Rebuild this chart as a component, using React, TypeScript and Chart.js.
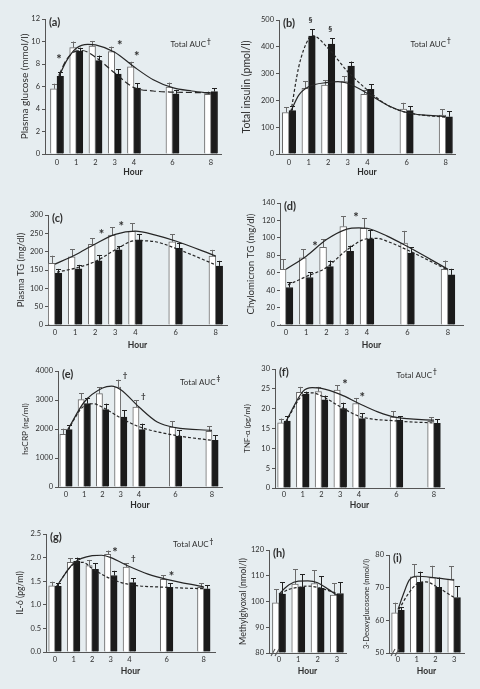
import React, { useEffect, useRef } from "react";
import { Chart, registerables } from "chart.js";
Chart.register(...registerables);

const FONT = 'Lato, "Open Sans", "DejaVu Sans", sans-serif';
const BG = "#e6edf0";
const TEXT = "#2e2e2e";
const AXIS = "#555555";
const WHITE_BORDER = "#6a6a6a";
const BLACK_FILL = "#1b1b1b";
const LINE = "#262626";
const TICK_SIZE = 7.5;
const HOUR_SIZE = 8.5;

const HOURS_LONG = [0, 1, 2, 3, 4, 6, 8];
const HOURS_SHORT = [0, 1, 2, 3];

// (a) Plasma glucose
const glucoseWhite = [5.8, 9.45, 9.6, 9.1, 7.75, 5.95, 5.3];
const glucoseWhiteErr = [0.45, 0.55, 0.45, 0.45, 0.45, 0.4, 0.25];
const glucoseBlack = [6.9, 9.15, 8.3, 7.1, 5.85, 5.35, 5.55];
const glucoseBlackErr = [0.4, 0.3, 0.45, 0.45, 0.45, 0.35, 0.3];
const glucoseSolidX = [0.1, 0.5, 1, 1.6, 2, 3, 4, 5, 6, 7, 8];
const glucoseSolidY = [6.9, 8.3, 9.4, 9.75, 9.7, 9.05, 7.75, 6.6, 5.9, 5.6, 5.4];
const glucoseDashX = [0.1, 0.5, 1, 1.3, 2, 3, 4, 5, 6, 8];
const glucoseDashY = [7.0, 8.4, 9.15, 9.2, 8.6, 7.2, 5.9, 5.6, 5.5, 5.45];
const glucoseMarks = [{ x: 0.1, y: 8.6, t: "*" }, { x: 3.26, y: 9.84, t: "*" }, { x: 4.14, y: 8.9, t: "*" }];

// (b) Total insulin
const insulinWhite = [155, 245, 257, 270, 223, 168, 145];
const insulinWhiteErr = [19, 27, 19, 21, 16, 23, 22];
const insulinBlack = [162, 440, 410, 328, 241, 162, 139];
const insulinBlackErr = [17, 25, 22, 17, 19, 17, 21];
const insulinSolidX = [0.05, 0.5, 1, 2, 2.5, 3, 4, 5, 6, 8];
const insulinSolidY = [152, 220, 251, 267, 270, 264, 226, 183, 155, 139];
const insulinDashX = [0.1, 0.5, 1, 1.2, 2, 3, 4, 5, 6, 8];
const insulinDashY = [158, 326, 430, 442, 394, 307, 239, 183, 155, 137];
const insulinMarks = [{ x: 1.1, y: 500, t: "§" }, { x: 2.1, y: 463, t: "§" }];

// (c) Plasma TG
const tgWhite = [168, 186, 220, 245, 256, 227, 188];
const tgWhiteErr = [21, 20, 16, 21, 21, 20, 17];
const tgBlack = [141, 153, 175, 205, 232, 209, 161];
const tgBlackErr = [12, 11, 16, 10, 15, 16, 14];
const tgSolidX = [0, 1, 2, 3, 4, 5, 6, 8];
const tgSolidY = [166, 191, 221, 247, 256, 245, 229, 188];
const tgDashX = [0.1, 1, 2, 3, 4, 5, 6, 8];
const tgDashY = [144, 155, 173, 205, 230, 227, 209, 164];
const tgMarks = [{ x: 2.32, y: 254, t: "*" }, { x: 3.3, y: 277, t: "*" }];

// (d) Chylomicron TG
const chyloWhite = [64, 77, 89, 113, 111, 94, 64];
const chyloWhiteErr = [11.5, 10, 9.6, 11.7, 11.7, 14, 10];
const chyloBlack = [43, 54.5, 67, 84.4, 99, 82.5, 57.5];
const chyloBlackErr = [6, 6, 7, 6.6, 9.5, 7, 7];
const chyloSolidX = [0, 1, 2, 3, 3.6, 4, 5, 6, 8];
const chyloSolidY = [64, 79, 98, 110, 111.5, 111, 102, 90, 64];
const chyloDashX = [0.1, 1, 2, 3, 4, 4.5, 5, 6, 8];
const chyloDashY = [46, 55.6, 66, 86, 99, 99.5, 96, 86, 63];
const chyloMarks = [{ x: 1.43, y: 93, t: "*" }, { x: 3.46, y: 126, t: "*" }];

// (e) hsCRP
const crpWhite = [1816, 3011, 3218, 3448, 2759, 2069, 1920];
const crpWhiteErr = [195, 230, 230, 253, 230, 207, 183];
const crpBlack = [1977, 2874, 2667, 2414, 1977, 1747, 1609];
const crpBlackErr = [149, 206, 207, 230, 207, 207, 173];
const crpSolidX = [0.1, 1, 2, 2.5, 3, 4, 5, 6, 8];
const crpSolidY = [1977, 2931, 3414, 3480, 3356, 2759, 2241, 2046, 1954];
const crpDashX = [0.1, 1, 1.5, 2, 3, 4, 6, 8];
const crpDashY = [1977, 2800, 2870, 2750, 2380, 2080, 1780, 1609];
const crpMarks = [{ x: 3.23, y: 3862, t: "†" }, { x: 4.24, y: 3138, t: "†" }];

// (f) TNF-α
const tnfWhite = [16.4, 24.1, 24.3, 24.7, 21.3, 17.9, 16.8];
const tnfWhiteErr = [1.1, 1.4, 1.2, 1.2, 1.4, 1.5, 1.1];
const tnfBlack = [16.9, 23.6, 22.2, 20.05, 17.5, 17.1, 16.3];
const tnfBlackErr = [1.2, 0.7, 1.1, 1.45, 1.3, 1.0, 1.0];
const tnfSolidX = [0.1, 1, 1.5, 2, 3, 4, 5, 6, 8];
const tnfSolidY = [16.7, 24.3, 25.3, 25.1, 23.6, 21.3, 19.2, 17.8, 17.1];
const tnfDashX = [0.1, 1, 1.5, 2, 3, 4, 6, 8];
const tnfDashY = [16.7, 23.4, 24, 23.2, 20.5, 18.1, 16.9, 16.4];
const tnfMarks = [{ x: 3.25, y: 26.8, t: "*" }, { x: 4.18, y: 23.4, t: "*" }];

// (g) IL-6
const il6White = [1.4, 1.9, 1.83, 2.07, 1.8, 1.54, 1.37];
const il6WhiteErr = [0.09, 0.09, 0.12, 0.08, 0.08, 0.09, 0.09];
const il6Black = [1.39, 1.92, 1.75, 1.62, 1.47, 1.37, 1.34];
const il6BlackErr = [0.07, 0.08, 0.13, 0.1, 0.09, 0.09, 0.08];
const il6SolidX = [0.1, 1, 2, 2.5, 3, 4, 5, 6, 8];
const il6SolidY = [1.4, 1.88, 2.04, 2.05, 2.0, 1.81, 1.65, 1.54, 1.38];
const il6DashX = [0.1, 1, 1.5, 2, 3, 4, 6, 8];
const il6DashY = [1.4, 1.86, 1.9, 1.77, 1.55, 1.43, 1.37, 1.34];
const il6Marks = [{ x: 3.23, y: 2.16, t: "*" }, { x: 4.21, y: 1.99, t: "†" }, { x: 6.27, y: 1.65, t: "*" }];

// (h) Methylglyoxal
const mgoWhite = [99.5, 106.8, 107, 102.5];
const mgoWhiteErr = [5.2, 5.7, 5.2, 4.5];
const mgoBlack = [102.9, 105.5, 105.1, 103.1];
const mgoBlackErr = [4.5, 5.1, 4.8, 4.3];
const mgoSolidX = [0, 0.5, 1, 1.5, 2, 2.5, 3];
const mgoSolidY = [102.9, 106.4, 107.9, 108, 107.3, 105, 102.5];
const mgoDashX = [0.05, 0.5, 1, 1.5, 2, 2.5, 3];
const mgoDashY = [102.9, 104.7, 105.5, 106, 105.5, 104.4, 103.1];

// (i) 3-Deoxyglucosone
const dgWhite = [62.3, 73.3, 73.1, 72.6];
const dgWhiteErr = [3.1, 3.8, 3.6, 4.0];
const dgBlack = [63.1, 71.6, 70.1, 67];
const dgBlackErr = [1.0, 3.3, 3.0, 3.5];
const dgSolidX = [0, 0.3, 0.6, 1, 2, 3];
const dgSolidY = [63.3, 68.2, 72.3, 73.5, 73, 72.3];
const dgDashX = [0.05, 0.5, 1, 1.5, 2, 3];
const dgDashY = [63.3, 67.7, 71.1, 71.8, 70.5, 67];

type Mark = { x: number; y: number; t: string };
type Panel = {
  label: string; yTitle: string; titleSize: number; hours: number[];
  white: number[]; whiteErr: number[]; black: number[]; blackErr: number[];
  solidX: number[]; solidY: number[]; dashX: number[]; dashY: number[];
  marks: Mark[]; auc?: { x: number; y: number; sup: string };
  yMin: number; yMax: number; yStep: number; yDec: number; brk?: boolean; dash: number[];
  L: number; R: number; T: number; B: number; titleX: number; tickY: number; hourY: number; x0: number; dx: number;
};

const SHORT_DASH = [3, 2];

const PANELS: Panel[] = [
  { label: "(a)", yTitle: "Plasma glucose (mmol/l)", titleSize: 10, hours: HOURS_LONG,
    white: glucoseWhite, whiteErr: glucoseWhiteErr, black: glucoseBlack, blackErr: glucoseBlackErr,
    solidX: glucoseSolidX, solidY: glucoseSolidY, dashX: glucoseDashX, dashY: glucoseDashY, marks: glucoseMarks,
    auc: { x: 5.9, y: 9.7, sup: "†" }, yMin: 0, yMax: 12, yStep: 2, yDec: 0, dash: [6, 3],
    L: 45, R: 221, T: 19, B: 154, titleX: 25, tickY: 163, hourY: 172, x0: 57, dx: 19.25 },
  { label: "(b)", yTitle: "Total insulin (pmol/l)", titleSize: 10.5, hours: HOURS_LONG,
    white: insulinWhite, whiteErr: insulinWhiteErr, black: insulinBlack, blackErr: insulinBlackErr,
    solidX: insulinSolidX, solidY: insulinSolidY, dashX: insulinDashX, dashY: insulinDashY, marks: insulinMarks,
    auc: { x: 6.2, y: 410, sup: "†" }, yMin: 0, yMax: 500, yStep: 100, yDec: 0, dash: SHORT_DASH,
    L: 279, R: 455, T: 20, B: 154, titleX: 247, tickY: 163, hourY: 172, x0: 289, dx: 19.6 },
  { label: "(c)", yTitle: "Plasma TG (mg/dl)", titleSize: 9.4, hours: HOURS_LONG,
    white: tgWhite, whiteErr: tgWhiteErr, black: tgBlack, blackErr: tgBlackErr,
    solidX: tgSolidX, solidY: tgSolidY, dashX: tgDashX, dashY: tgDashY, marks: tgMarks,
    yMin: 0, yMax: 300, yStep: 50, yDec: 0, dash: SHORT_DASH,
    L: 48, R: 227, T: 215, B: 325, titleX: 21, tickY: 333, hourY: 345, x0: 55, dx: 20.1 },
  { label: "(d)", yTitle: "Chylomicron TG (mg/dl)", titleSize: 9.7, hours: HOURS_LONG,
    white: chyloWhite, whiteErr: chyloWhiteErr, black: chyloBlack, blackErr: chyloBlackErr,
    solidX: chyloSolidX, solidY: chyloSolidY, dashX: chyloDashX, dashY: chyloDashY, marks: chyloMarks,
    yMin: 0, yMax: 140, yStep: 20, yDec: 0, dash: SHORT_DASH,
    L: 280, R: 463, T: 203, B: 325, titleX: 251, tickY: 333, hourY: 345, x0: 286, dx: 20.25 },
  { label: "(e)", yTitle: "hsCRP (ng/ml)", titleSize: 8.3, hours: HOURS_LONG,
    white: crpWhite, whiteErr: crpWhiteErr, black: crpBlack, blackErr: crpBlackErr,
    solidX: crpSolidX, solidY: crpSolidY, dashX: crpDashX, dashY: crpDashY, marks: crpMarks,
    auc: { x: 6.25, y: 3620, sup: "‡" }, yMin: 0, yMax: 4000, yStep: 1000, yDec: 0, dash: SHORT_DASH,
    L: 58, R: 222, T: 371, B: 487, titleX: 25, tickY: 495, hourY: 505, x0: 66, dx: 18.25 },
  { label: "(f)", yTitle: "TNF-α (pg/ml)", titleSize: 7.8, hours: HOURS_LONG,
    white: tnfWhite, whiteErr: tnfWhiteErr, black: tnfBlack, blackErr: tnfBlackErr,
    solidX: tnfSolidX, solidY: tnfSolidY, dashX: tnfDashX, dashY: tnfDashY, marks: tnfMarks,
    auc: { x: 6.0, y: 28.5, sup: "†" }, yMin: 0, yMax: 30, yStep: 5, yDec: 0, dash: SHORT_DASH,
    L: 275, R: 444, T: 369, B: 488, titleX: 247, tickY: 495, hourY: 505, x0: 284, dx: 18.75 },
  { label: "(g)", yTitle: "IL-6 (pg/ml)", titleSize: 8.7, hours: HOURS_LONG,
    white: il6White, whiteErr: il6WhiteErr, black: il6Black, blackErr: il6BlackErr,
    solidX: il6SolidX, solidY: il6SolidY, dashX: il6DashX, dashY: il6DashY, marks: il6Marks,
    auc: { x: 6.35, y: 2.27, sup: "†" }, yMin: 0, yMax: 2.5, yStep: 0.5, yDec: 1, dash: SHORT_DASH,
    L: 46, R: 215, T: 534, B: 652, titleX: 20, tickY: 660, hourY: 671, x0: 55, dx: 18.6 },
  { label: "(h)", yTitle: "Methylglyoxal (nmol/l)", titleSize: 8.9, hours: HOURS_SHORT,
    white: mgoWhite, whiteErr: mgoWhiteErr, black: mgoBlack, blackErr: mgoBlackErr,
    solidX: mgoSolidX, solidY: mgoSolidY, dashX: mgoDashX, dashY: mgoDashY, marks: [],
    yMin: 80, yMax: 120, yStep: 10, yDec: 0, brk: true, dash: SHORT_DASH,
    L: 269, R: 346, T: 550, B: 653, titleX: 243, tickY: 660, hourY: 671, x0: 279, dx: 19.3 },
  { label: "(i)", yTitle: "3-Deoxyglucosone (nmol/l)", titleSize: 7.6, hours: HOURS_SHORT,
    white: dgWhite, whiteErr: dgWhiteErr, black: dgBlack, blackErr: dgBlackErr,
    solidX: dgSolidX, solidY: dgSolidY, dashX: dgDashX, dashY: dgDashY, marks: [],
    yMin: 50, yMax: 80, yStep: 10, yDec: 0, brk: true, dash: SHORT_DASH,
    L: 389, R: 464, T: 555, B: 653, titleX: 367, tickY: 660, hourY: 671, x0: 398, dx: 18.7 },
];

function PanelChart({ p }: { p: Panel }) {
  const ref = useRef<HTMLCanvasElement>(null);
  const cl = p.L - 40, ct = p.T - 16, cr = p.R + 8, cb = p.hourY + 8;
  const w = cr - cl, h = cb - ct;
  useEffect(() => {
    const tickLH = TICK_SIZE * 1.2;
    const titleLH = p.titleSize * 1.2;
    const hourLH = HOUR_SIZE * 1.2;
    const bt = p.dx * 0.34;
    const plugin = {
      id: "panelExtras",
      afterDatasetDraw(chart: any, args: any) {
        const ds: any = chart.data.datasets[args.index];
        if (!ds.err) return;
        const ctx = chart.ctx;
        const y = chart.scales.y;
        ctx.save();
        ctx.strokeStyle = ds.errColor;
        ctx.lineWidth = 1;
        args.meta.data.forEach((el: any, i: number) => {
          const top = y.getPixelForValue(ds.data[i].y + ds.err[i]);
          const x = Math.round(el.x) + 0.5;
          ctx.beginPath();
          ctx.moveTo(x, el.y);
          ctx.lineTo(x, top);
          ctx.moveTo(x - 2.5, Math.round(top) + 0.5);
          ctx.lineTo(x + 2.5, Math.round(top) + 0.5);
          ctx.stroke();
        });
        ctx.restore();
      },
      afterDraw(chart: any) {
        const { ctx, chartArea } = chart;
        const xs = chart.scales.x, ys = chart.scales.y;
        ctx.save();
        ctx.fillStyle = TEXT;
        ctx.textBaseline = "middle";
        ctx.textAlign = "left";
        ctx.font = `bold 11px ${FONT}`;
        ctx.fillText(p.label, chartArea.left + 4, chartArea.top + 3);
        p.marks.forEach((m) => {
          const px = xs.getPixelForValue(m.x), py = ys.getPixelForValue(m.y);
          ctx.textAlign = "center";
          if (m.t === "*") {
            ctx.font = `bold 13px ${FONT}`;
            ctx.fillText(m.t, px, py + 3);
          } else {
            ctx.font = `bold 8px ${FONT}`;
            ctx.fillText(m.t, px, py);
          }
        });
        if (p.auc) {
          const px = xs.getPixelForValue(p.auc.x), py = ys.getPixelForValue(p.auc.y);
          ctx.textAlign = "left";
          ctx.font = `8px ${FONT}`;
          ctx.fillText("Total AUC", px, py);
          const tw = ctx.measureText("Total AUC").width;
          ctx.font = `bold 6.5px ${FONT}`;
          ctx.fillText(p.auc.sup, px + tw + 1, py - 3);
        }
        if (p.brk) {
          const bx = chartArea.left, by = chartArea.bottom;
          ctx.strokeStyle = AXIS;
          ctx.lineWidth = 1.1;
          ctx.beginPath();
          ctx.moveTo(bx + 2, by + 3);
          ctx.lineTo(bx + 6, by - 4);
          ctx.moveTo(bx + 6, by + 3);
          ctx.lineTo(bx + 10, by - 4);
          ctx.stroke();
        }
        ctx.restore();
      },
    };
    const chart = new Chart(ref.current as HTMLCanvasElement, {
      type: "bar",
      data: {
        datasets: [
          { type: "line", data: p.solidX.map((x, i) => ({ x, y: p.solidY[i] })), borderColor: LINE, borderWidth: 1.2,
            pointRadius: 0, cubicInterpolationMode: "monotone", fill: false, order: 0 } as any,
          { type: "line", data: p.dashX.map((x, i) => ({ x, y: p.dashY[i] })), borderColor: LINE, borderWidth: 1.2,
            borderDash: p.dash, pointRadius: 0, cubicInterpolationMode: "monotone", fill: false, order: 0 } as any,
          { type: "bar", data: p.hours.map((x, i) => ({ x, y: p.white[i] })), backgroundColor: "#ffffff",
            borderColor: WHITE_BORDER, borderWidth: 1, barThickness: bt, base: p.yMin, order: 1,
            err: p.whiteErr, errColor: WHITE_BORDER } as any,
          { type: "bar", data: p.hours.map((x, i) => ({ x, y: p.black[i] })), backgroundColor: BLACK_FILL,
            borderColor: BLACK_FILL, borderWidth: 1, barThickness: bt, base: p.yMin, order: 1,
            err: p.blackErr, errColor: "#222222" } as any,
        ],
      },
      options: {
        animation: false,
        responsive: false,
        maintainAspectRatio: false,
        devicePixelRatio: 1,
        events: [],
        layout: { padding: { top: p.T - ct, right: cr - p.R, left: 0, bottom: 0 } },
        plugins: { legend: { display: false }, tooltip: { enabled: false } },
        scales: {
          x: {
            type: "linear",
            min: (p.L - p.x0) / p.dx,
            max: (p.R - p.x0) / p.dx,
            offset: false,
            grid: { display: false, drawTicks: false, offset: false },
            border: { display: true, color: AXIS, width: 1 },
            ticks: { font: { family: FONT, size: TICK_SIZE }, color: TEXT, padding: p.tickY - p.B - tickLH / 2,
              autoSkip: false, maxRotation: 0, callback: (v: any) => String(v) },
            afterBuildTicks: (s: any) => { s.ticks = p.hours.map((v) => ({ value: v })); },
            afterFit: (s: any) => { s.height = cb - p.B; },
            title: { display: true, text: "Hour", color: TEXT, font: { family: FONT, size: HOUR_SIZE, weight: "bold" },
              padding: { top: 0, bottom: (cb - p.hourY) - hourLH / 2 } },
          },
          y: {
            min: p.yMin, max: p.yMax,
            ticks: { stepSize: p.yStep, font: { family: FONT, size: TICK_SIZE }, color: TEXT, padding: 2,
              callback: (v: any) => Number(v).toFixed(p.yDec) },
            grid: { display: true, drawOnChartArea: false, drawTicks: true, tickLength: 3, color: AXIS },
            border: { display: true, color: AXIS, width: 1 },
            afterFit: (s: any) => { s.width = p.L - cl; },
            title: { display: true, text: p.yTitle, color: TEXT, font: { family: FONT, size: p.titleSize },
              padding: { top: p.titleX - cl - titleLH / 2, bottom: 0 } },
          },
        },
      } as any,
      plugins: [plugin as any],
    });
    return () => chart.destroy();
  }, []);
  return (
    <canvas ref={ref} width={w} height={h}
      style={{ position: "absolute", left: cl, top: ct, width: w, height: h }} />
  );
}

export default function App() {
  return (
    <div style={{ position: "fixed", left: 0, top: 0, width: 480, height: 689, background: BG, overflow: "hidden" }}>
      {PANELS.map((p) => <PanelChart key={p.label} p={p} />)}
    </div>
  );
}
